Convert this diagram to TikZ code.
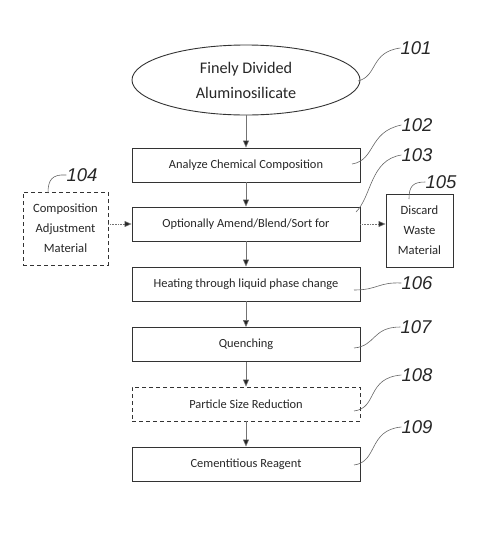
\documentclass[tikz,border=0pt]{standalone}
\usepackage{fontspec}
\setmainfont{Carlito}
\newfontfamily\labfont{Liberation Sans}
\usetikzlibrary{shapes.geometric,arrows.meta}
\tikzset{
  stepbox/.style={draw=black!80, line width=0.9pt, minimum width=228pt, minimum height=34pt, inner sep=0pt, font=\fontsize{12.4}{14}\selectfont, text=black!85},
  sidebox/.style={draw=black!80, line width=0.9pt, minimum width=67pt, minimum height=73pt, inner sep=0pt, align=center, font=\fontsize{12.6}{20}\selectfont, text=black!85},
  flow/.style={draw=black!55, line width=0.6pt, -{Triangle[length=7pt,width=6pt,fill=black!85]}},
  dflow/.style={flow, densely dotted},
  leader/.style={draw=black!60, line width=0.6pt},
  reflab/.style={font=\labfont\itshape\fontsize{18.5}{18.5}\selectfont, text=black!85, inner sep=0pt}
}
\begin{document}
\begin{tikzpicture}[x=1pt,y=-1pt]
\useasboundingbox (0,0) rectangle (483,539);
\node[ellipse, draw=black!80, line width=0.9pt, minimum width=228pt, minimum height=70pt, inner sep=0pt, align=center, font=\fontsize{16.2}{25}\selectfont, text=black!85] (n101) at (246,80) {Finely Divided\\Aluminosilicate};
\node[stepbox] (n102) at (246,165) {Analyze Chemical Composition};
\node[stepbox] (n103) at (246,224) {Optionally Amend/Blend/Sort for};
\node[sidebox, dashed, dash pattern=on 4pt off 3pt, minimum width=85pt] (n104) at (65.5,228.5) {Composition\\Adjustment\\Material};
\node[sidebox] (n105) at (419.5,230.5) {Discard\\Waste\\Material};
\node[stepbox] (n106) at (246,284) {Heating through liquid phase change};
\node[stepbox] (n107) at (246,344.5) {Quenching};
\node[stepbox, dash pattern=on 4pt off 3pt] (n108) at (246,404) {Particle Size Reduction};
\node[stepbox] (n109) at (246,464) {Cementitious Reagent};

\draw[flow] (n101) -- (n102);
\draw[flow] (n102) -- (n103);
\draw[flow] (n103) -- (n106);
\draw[flow] (n106) -- (n107);
\draw[flow] (n107) -- (n108);
\draw[flow] (n108) -- (n109);
\draw[dflow] (n104.east |- n103) -- (n103.west);
\draw[dflow] (n103.east) -- (n105.west |- n103);

\node[reflab] (l101) at (416,48) {101};
\node[reflab] (l102) at (417,125) {102};
\node[reflab] (l103) at (417,155) {103};
\node[reflab] (l104) at (82,175) {104};
\node[reflab] (l105) at (441,182) {105};
\node[reflab] (l106) at (417,283) {106};
\node[reflab] (l107) at (416,327) {107};
\node[reflab] (l108) at (417,375) {108};
\node[reflab] (l109) at (417,427) {109};

\coordinate (s101) at (358,81);
\coordinate (s102) at (352,164);
\coordinate (s103) at (356,212);
\coordinate (s104) at (48,193);
\coordinate (s105) at (409,199);
\coordinate (s106) at (354,290);
\coordinate (s107) at (354,348);
\coordinate (s108) at (354,411);
\coordinate (s109) at (354,465);

\draw[leader] (s101) .. controls (378,76) and (370,52) .. (l101.west);
\draw[leader] (s102) .. controls (376,160) and (368,132) .. (l102.west);
\draw[leader] (s103) .. controls (372,196) and (370,160) .. (l103.west);
\draw[leader] (s104) .. controls (48,180) and (52,174) .. (l104.west);
\draw[leader] (s105) .. controls (409,186) and (413,182) .. (l105.west);
\draw[leader] (s106) .. controls (378,290) and (378,282) .. (l106.west);
\draw[leader] (s107) .. controls (376,346) and (372,327) .. (l107.west);
\draw[leader] (s108) .. controls (378,408) and (366,378) .. (l108.west);
\draw[leader] (s109) .. controls (378,462) and (368,430) .. (l109.west);
\end{tikzpicture}
\end{document}
